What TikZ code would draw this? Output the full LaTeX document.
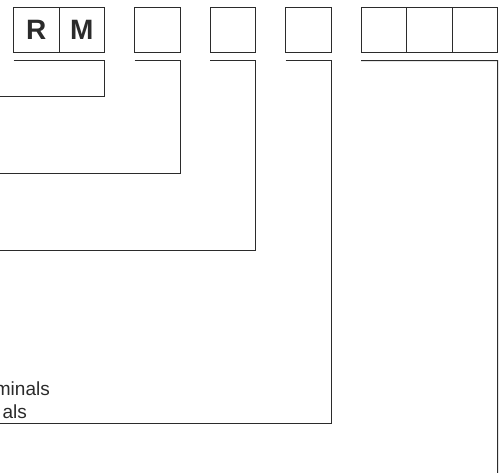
\documentclass[tikz,border=0pt]{standalone}
\usepackage{fontspec}
\setmainfont{Liberation Sans}
\usetikzlibrary{positioning}
\definecolor{inkgray}{HTML}{2B2B2B}

\begin{document}
\begin{tikzpicture}[
    x=1pt, y=1pt,
    cell/.style={rectangle, draw=inkgray, line width=1pt, minimum width=45.5pt, minimum height=45pt, inner sep=0pt, outer sep=0pt, font=\fontsize{28}{30}\selectfont\bfseries, text=inkgray},
    bracket/.style={draw=inkgray, line width=1pt},
    label/.style={font=\fontsize{19}{22}\selectfont, text=inkgray, inner sep=0pt, anchor=base east}
  ]
    \useasboundingbox (0,0) rectangle (501,-472);
    \clip (0,0) rectangle (501,-472);

    \node[cell] (r) at (36.25,-30) {R};
    \node[cell, right=0pt of r] (m) {M};
    \node[cell, right=30pt of m] (c3) {};
    \node[cell, right=30pt of c3] (c4) {};
    \node[cell, right=30pt of c4] (c5) {};
    \node[cell, right=30pt of c5] (c6) {};
    \node[cell, right=0pt of c6] (c7) {};
    \node[cell, right=0pt of c7] (c8) {};

    \coordinate (e1) at (0,-96);
    \coordinate (e2) at (0,-173.3);
    \coordinate (e3) at (0,-250.7);
    \coordinate (e4) at (0,-423.7);
    \coordinate (e5) at (497.7,-475);

    \draw[bracket] ([yshift=-8pt]r.south west) -- ([yshift=-8pt]m.south east) |- (e1);
    \draw[bracket] ([yshift=-8pt]c3.south west) -- ([yshift=-8pt]c3.south east) |- (e2);
    \draw[bracket] ([yshift=-8pt]c4.south west) -- ([yshift=-8pt]c4.south east) |- (e3);
    \draw[bracket] ([yshift=-8pt]c5.south west) -- ([yshift=-8pt]c5.south east) |- (e4);
    \draw[bracket] ([yshift=-8pt]c6.south west) -- ([yshift=-8pt]c8.south east) -- (e5);

    \node[label] (t1) at (50,-395) {minals};
    \node[label] (t2) at (27,-418.5) {als};
  \end{tikzpicture}
\end{document}
